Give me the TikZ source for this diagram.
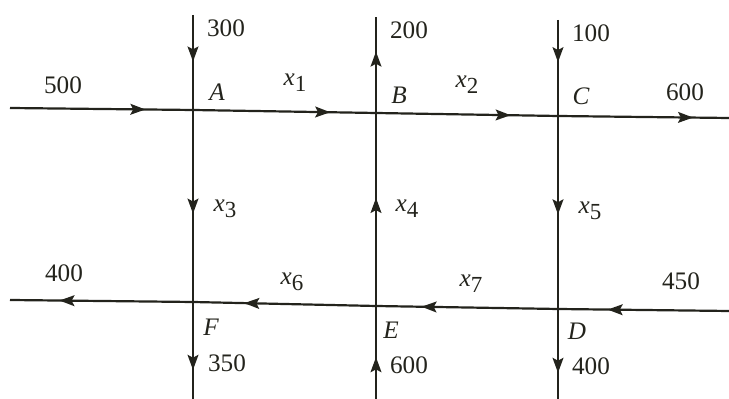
\documentclass[tikz,border=0pt]{standalone}
\usepackage{fontspec}
\setmainfont{Liberation Serif}
\usetikzlibrary{arrows.meta,decorations.markings}
\definecolor{ink}{RGB}{35,35,28}
\newcommand{\xv}[1]{\textit{x}\raisebox{-0.5ex}{\fontsize{11.5}{13}\selectfont #1}}
\begin{document}
\begin{tikzpicture}[x=0.5pt,y=-0.5pt,
  flow/.style={line width=1.1pt, draw=ink},
  arr/.style={flow, postaction={decorate},
    decoration={markings, mark=at position #1 with {\arrow[ink]{Stealth[length=7.5pt,width=5.4pt,inset=1.4pt]}}}},
  lbl/.style={font=\fontsize{12.6}{15}\selectfont, text=ink, inner sep=0pt},
  pt/.style={font=\fontsize{12.6}{15}\selectfont\itshape, text=ink, inner sep=0pt}]
\useasboundingbox (0,0) rectangle (729,399);
% junctions
\coordinate (A) at (193,110);
\coordinate (B) at (376,113);
\coordinate (C) at (558,116);
\coordinate (F) at (193,302);
\coordinate (E) at (376,306);
\coordinate (D) at (558,309);
% free ends
\coordinate (L1) at (10,108);
\coordinate (R1) at (729,118);
\coordinate (L2) at (10,300);
\coordinate (R2) at (729,311);
\coordinate (TA) at (193,15);
\coordinate (TB) at (376,17);
\coordinate (TC) at (558,20);
\coordinate (BA) at (193,399);
\coordinate (BB) at (376,399);
\coordinate (BC) at (558,399);
% top row
\draw[arr=0.74] (L1) -- (A);
\draw[arr=0.75] (A) -- (B);
\draw[arr=0.74] (B) -- (C);
\draw[arr=0.79] (C) -- (R1);
% bottom row
\draw[arr=0.73] (F) -- (L2);
\draw[arr=0.72] (E) -- (F);
\draw[arr=0.75] (D) -- (E);
\draw[arr=0.71] (R2) -- (D);
% verticals
\draw[arr=0.49] (TA) -- (A);
\draw[arr=0.64] (B) -- (TB);
\draw[arr=0.44] (TC) -- (C);
\draw[arr=0.54] (A) -- (F);
\draw[arr=0.56] (E) -- (B);
\draw[arr=0.51] (C) -- (D);
\draw[arr=0.70] (F) -- (BA);
\draw[arr=0.45] (BB) -- (E);
\draw[arr=0.71] (D) -- (BC);
% labels
\node[lbl] (l300) at (226,28.5) {300};
\node[lbl] (l200) at (409,30) {200};
\node[lbl] (l100) at (591,33) {100};
\node[lbl] (l500) at (63,85) {500};
\node[pt] (nA) at (217,92) {A};
\node[lbl] (x1) at (295,83) {\xv{1}};
\node[pt] (nB) at (399,95) {B};
\node[lbl] (x2) at (467,85) {\xv{2}};
\node[pt] (nC) at (581,96) {C};
\node[lbl] (l600) at (685,92) {600};
\node[lbl] (x3) at (225,209) {\xv{3}};
\node[lbl] (x4) at (407,209) {\xv{4}};
\node[lbl] (x5) at (590,211) {\xv{5}};
\node[lbl] (l400a) at (64,273) {400};
\node[lbl] (x6) at (292,282) {\xv{6}};
\node[lbl] (x7) at (471,284) {\xv{7}};
\node[lbl] (l450) at (681,281) {450};
\node[pt] (nF) at (211,327) {F};
\node[pt] (nE) at (391,330) {E};
\node[pt] (nD) at (577,331) {D};
\node[lbl] (l350) at (227,363) {350};
\node[lbl] (l600b) at (409,365) {600};
\node[lbl] (l400b) at (591,366) {400};
\end{tikzpicture}
\end{document}
